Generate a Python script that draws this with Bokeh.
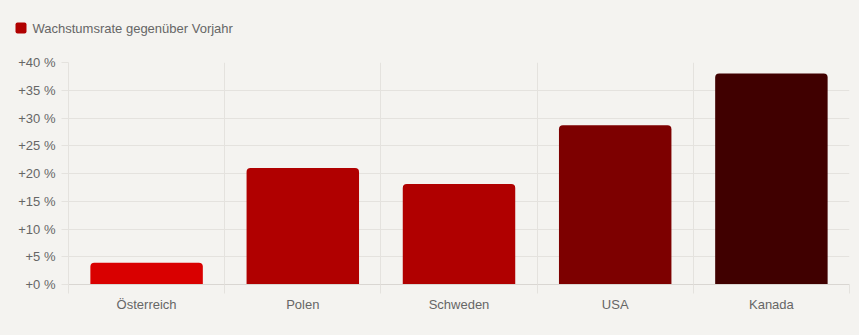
from bokeh.plotting import figure
from bokeh.layouts import column, row
from bokeh.models import (ColumnDataSource, Range1d, FixedTicker, SingleIntervalTicker,
                          PrintfTickFormatter)
from bokeh.core.properties import value
from bokeh.embed import file_html
from bokeh.resources import INLINE

categories = ["Österreich", "Polen", "Schweden", "USA", "Kanada"]
values = [3.9, 21.0, 18.1, 28.7, 38.0]
bar_colors = ["#d90000", "#b00000", "#b00000", "#7d0000", "#400000"]
series_name = "Wachstumsrate gegenüber Vorjahr"
legend_color = "#b00000"

BG = "#f4f3f0"
GRID = "#e4e2de"
TEXT = "#666666"
FONT = "Liberation Sans"
W = 859
TOP_H = 50

# ---- legend strip (screen-like coordinates) ----
leg = figure(width=W, height=TOP_H, output_backend="svg", toolbar_location=None,
             x_range=Range1d(0, W), y_range=Range1d(TOP_H, 0),
             min_border=0, min_border_left=0, min_border_right=0,
             min_border_top=0, min_border_bottom=0,
             x_axis_location=None, y_axis_location=None,
             styles={"background-color": BG})
leg.background_fill_color = BG
leg.border_fill_color = BG
leg.outline_line_color = None
leg.grid.visible = False
leg.rect(x=[20.5], y=[27.5], width=11, height=11, fill_color=legend_color,
         line_color=None, border_radius=2)
leg.text(x=[32], y=[27.5], text=[series_name], text_font=value(FONT),
         text_font_size="13px", text_color=TEXT, text_baseline="middle", text_align="left")

# ---- main chart ----
xs = [i + 0.5 for i in range(len(categories))]
src = ColumnDataSource(dict(x=xs, top=values, color=bar_colors, cat=categories))

p = figure(width=W, height=335 - TOP_H, output_backend="svg", toolbar_location=None,
           x_range=Range1d(0, len(categories)), y_range=Range1d(0, 40),
           min_border_left=68, min_border_right=10, min_border_top=62 - TOP_H,
           min_border_bottom=51, styles={"background-color": BG})
p.background_fill_color = BG
p.border_fill_color = BG
p.outline_line_color = None

p.vbar(x="x", top="top", bottom=0, width=0.72, source=src, fill_color="color",
       line_color=None, border_radius=(4, 4, 0, 0))

# y axis
p.yaxis.ticker = SingleIntervalTicker(interval=5)
p.yaxis.formatter = PrintfTickFormatter(format="+%d %%")
p.yaxis.axis_line_color = GRID
p.yaxis.major_tick_line_color = GRID
p.yaxis.major_tick_out = 7
p.yaxis.major_tick_in = 0
p.yaxis.minor_tick_line_color = None
p.yaxis.major_label_standoff = 6
p.yaxis.major_label_text_font = FONT
p.yaxis.major_label_text_font_size = "13px"
p.yaxis.major_label_text_color = TEXT

# x axis
p.xaxis.ticker = FixedTicker(ticks=xs, minor_ticks=list(range(len(categories) + 1)))
p.xaxis.major_label_overrides = {x: c for x, c in zip(xs, categories)}
p.xaxis.axis_line_color = "#d9d6d2"
p.xaxis.major_tick_line_color = None
p.xaxis.major_tick_out = 0
p.xaxis.major_tick_in = 0
p.xaxis.minor_tick_line_color = GRID
p.xaxis.minor_tick_out = 9
p.xaxis.minor_tick_in = 0
p.xaxis.major_label_standoff = 3
p.xaxis.major_label_text_font = FONT
p.xaxis.major_label_text_font_size = "13px"
p.xaxis.major_label_text_color = TEXT

p.xgrid.ticker = FixedTicker(ticks=list(range(len(categories) + 1)))
p.xgrid.grid_line_color = GRID
p.ygrid.grid_line_color = GRID

layout = column(row(leg, spacing=0, styles={"background-color": BG}), p, spacing=0,
                styles={"background-color": BG})
open("out.html", "w").write(file_html(layout, INLINE))
